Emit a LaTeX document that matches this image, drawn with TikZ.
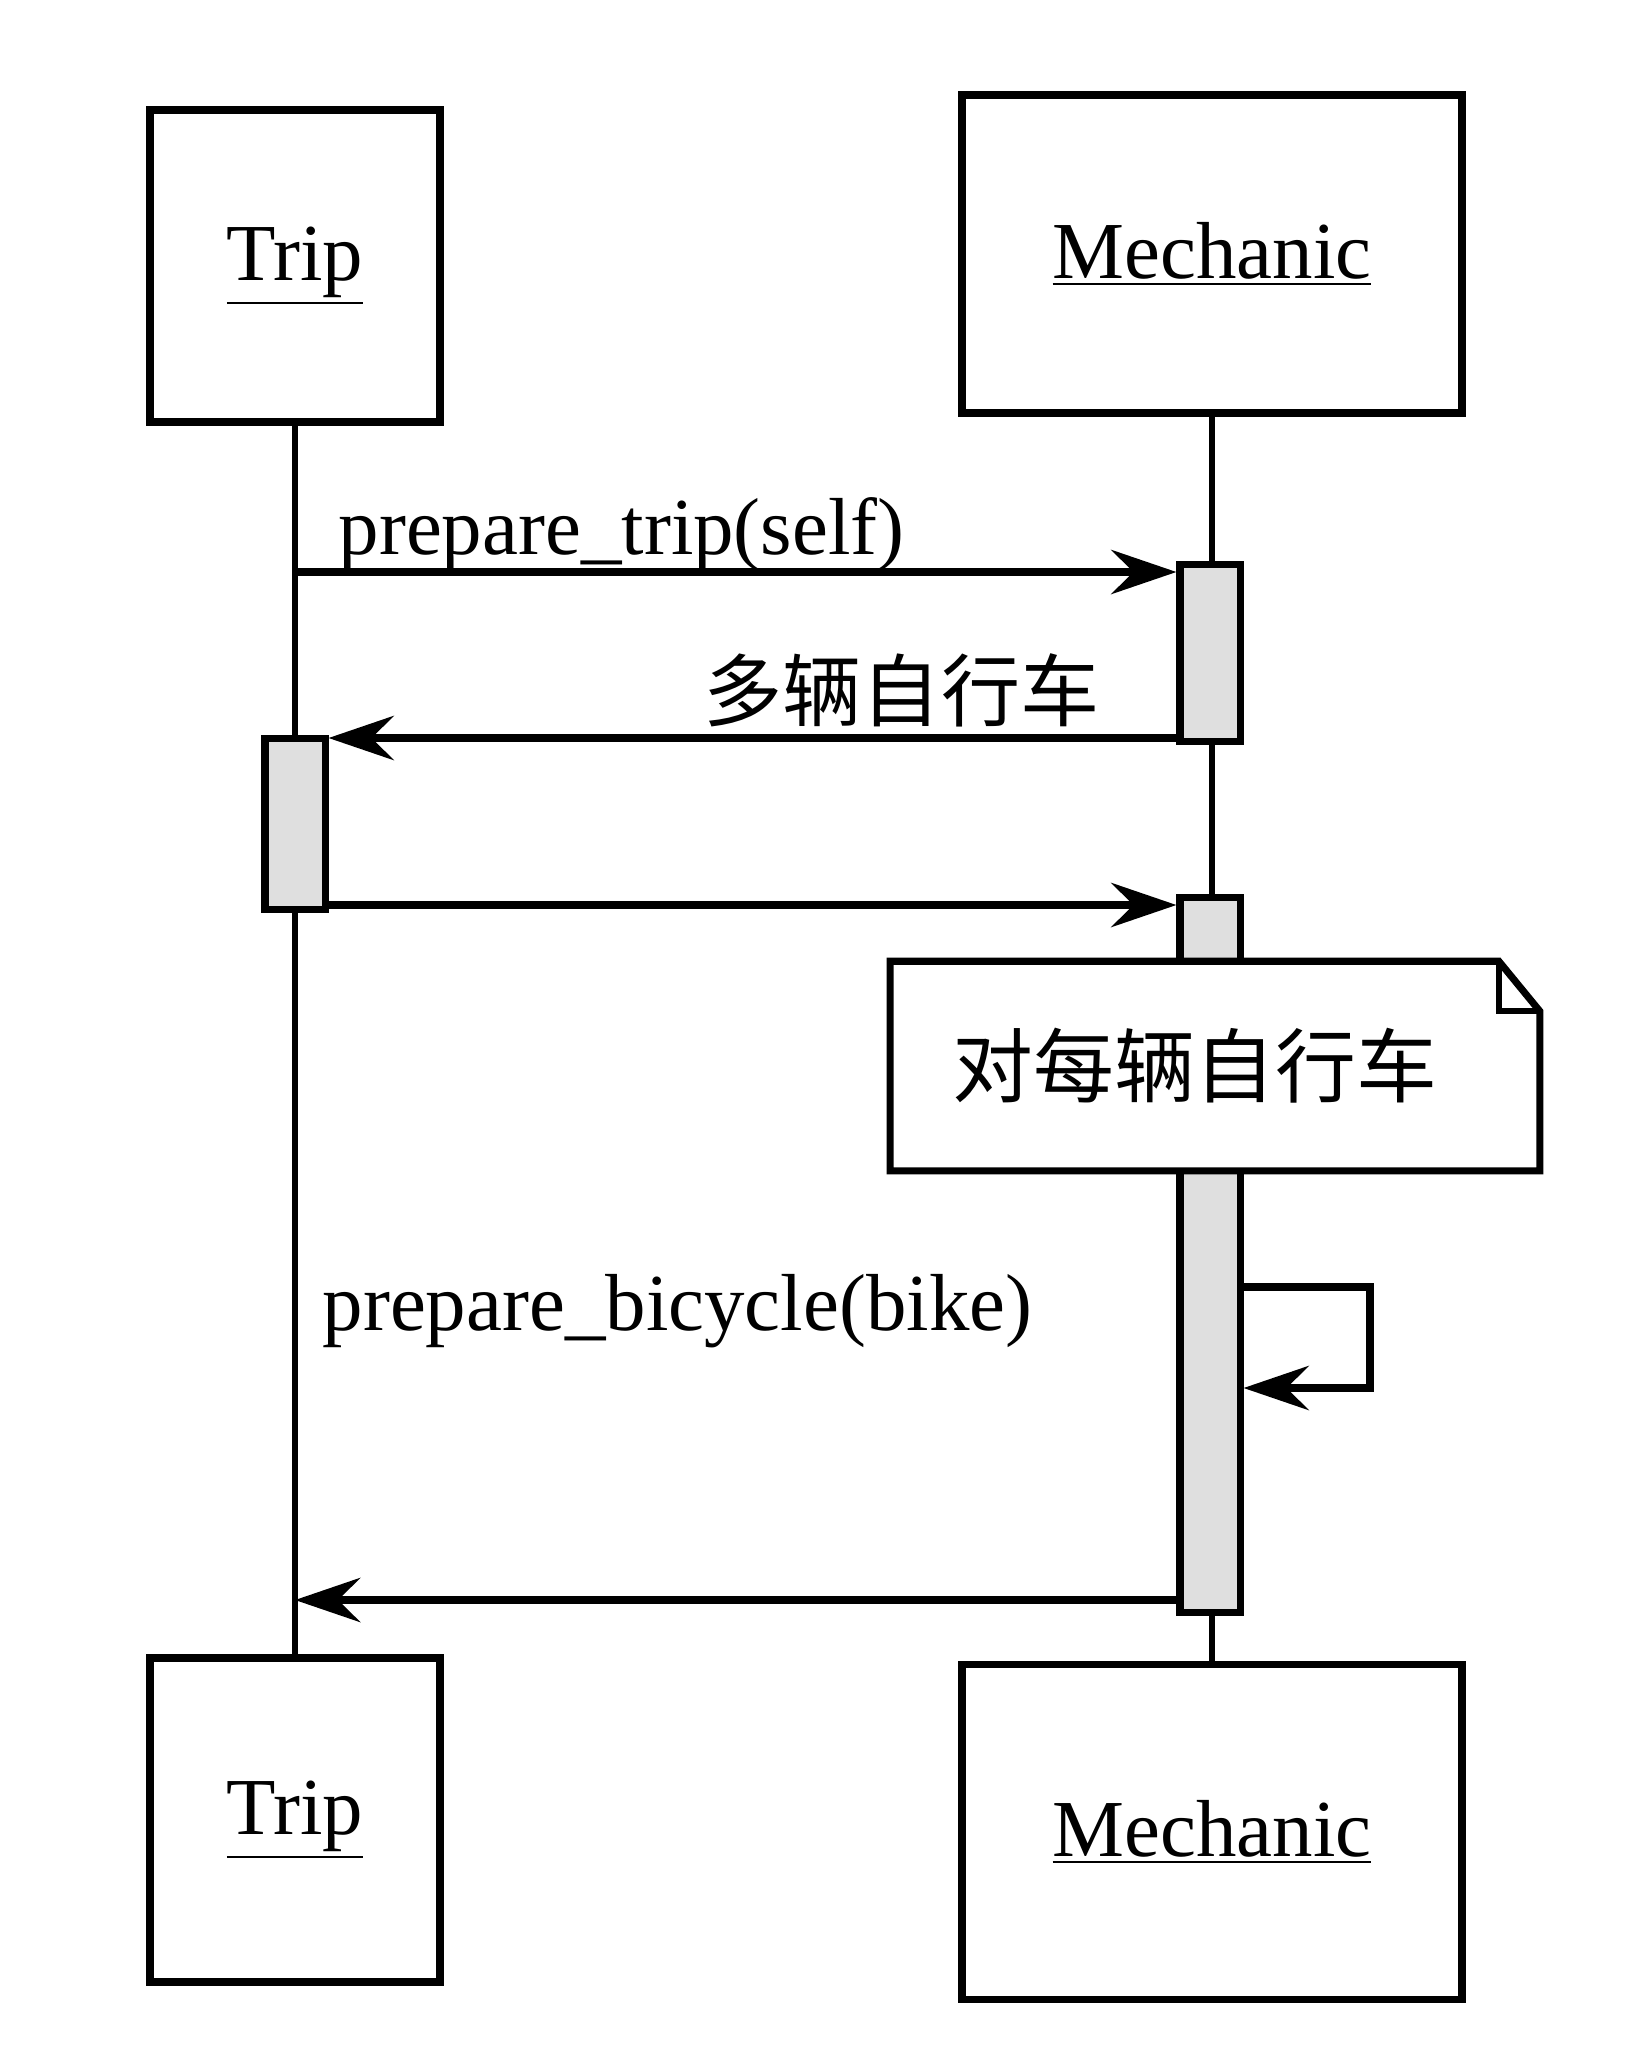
\documentclass[tikz,border=0pt]{standalone}
\usepackage{fontspec}
\setmainfont{Liberation Serif}
\newfontfamily\cjk{Noto Sans CJK SC}
\usetikzlibrary{arrows.meta,positioning}
\newcommand{\objname}[1]{\underline{#1}}

\begin{document}
\begin{tikzpicture}[x=0.01cm,y=-0.01cm,
  obj/.style={draw,line width=2.2pt,fill=white,minimum width=2.9cm,font=\fontsize{23}{27}\selectfont},
  life/.style={line width=1.5pt},
  actbar/.style={draw,line width=2pt,fill=gray!25,minimum width=0.6cm,inner sep=0pt},
  msg/.style={-{Stealth[length=6.5mm,width=4.4mm,inset=2.2mm]},line width=2.4pt},
  lbl/.style={inner sep=0pt,font=\fontsize{23}{27}\selectfont},
  cn/.style={inner sep=0pt,font=\cjk\fontsize{22.5}{26}\selectfont}]
\useasboundingbox (0,0) rectangle (1632,2069);
% objects
\node[obj,minimum height=3.12cm] (trip1) at (295,266) {\objname{Trip}};
\node[obj,minimum width=5cm,minimum height=3.18cm] (mech1) at (1212,254) {\objname{Mechanic}};
\node[obj,minimum height=3.24cm] (trip2) at (295,1820) {\objname{Trip}};
\node[obj,minimum width=5cm,minimum height=3.35cm] (mech2) at (1212,1832) {\objname{Mechanic}};
\draw[life] (trip1) -- (trip2);
\draw[life] (mech1) -- (mech2);
% activations
\node[actbar,minimum height=1.76cm] (mbar1) at (1210,653) {};
\node[actbar,minimum height=1.71cm] (tbar) at (295,824) {};
\node[actbar,minimum height=7.15cm] (mbar2) at (1210,1255) {};
% note
\node[cn,font=\cjk\fontsize{23}{27}\selectfont,minimum width=6.48cm,minimum height=2.08cm,fill=white] (note) at (1215,1066) {对每辆自行车\hspace*{0.4cm}};
\draw[line width=2pt] (note.south west) -- (note.north west) -- ([xshift=-0.41cm]note.north east)
  -- ([yshift=-0.5cm]note.north east) -- (note.south east) -- cycle;
\draw[line width=1.8pt] ([xshift=-0.41cm]note.north east) -- ([xshift=-0.41cm,yshift=-0.5cm]note.north east)
  -- ([yshift=-0.5cm]note.north east);
% messages
\coordinate (t1) at (295,572);
\coordinate (m1) at (1210,738);
\coordinate (t2) at (295,905);
\coordinate (m2) at (1210,1600);
\coordinate (loopa) at (1370,1287);
\coordinate (loopb) at (1370,1388);
\draw[msg] (t1) -- (t1 -| mbar1.west);
\draw[msg] (m1 -| mbar1.west) -- (m1 -| tbar.east);
\draw[msg] (t2 -| tbar.east) -- (t2 -| mbar2.west);
\draw[msg] (loopa -| mbar2.east) -- (loopa) -- (loopb) -- (loopb -| mbar2.east);
\draw[msg] (m2 -| mbar2.west) -- (m2 -| trip2);
\node[lbl,anchor=base west] (msg1) at (338,554) {prepare\_trip(self)};
\node[cn,anchor=east] (msg2) at (1100,690) {多辆自行车};
\node[lbl,anchor=base west] (msg3) at (322,1330) {prepare\_bicycle(bike)};
\end{tikzpicture}
\end{document}
